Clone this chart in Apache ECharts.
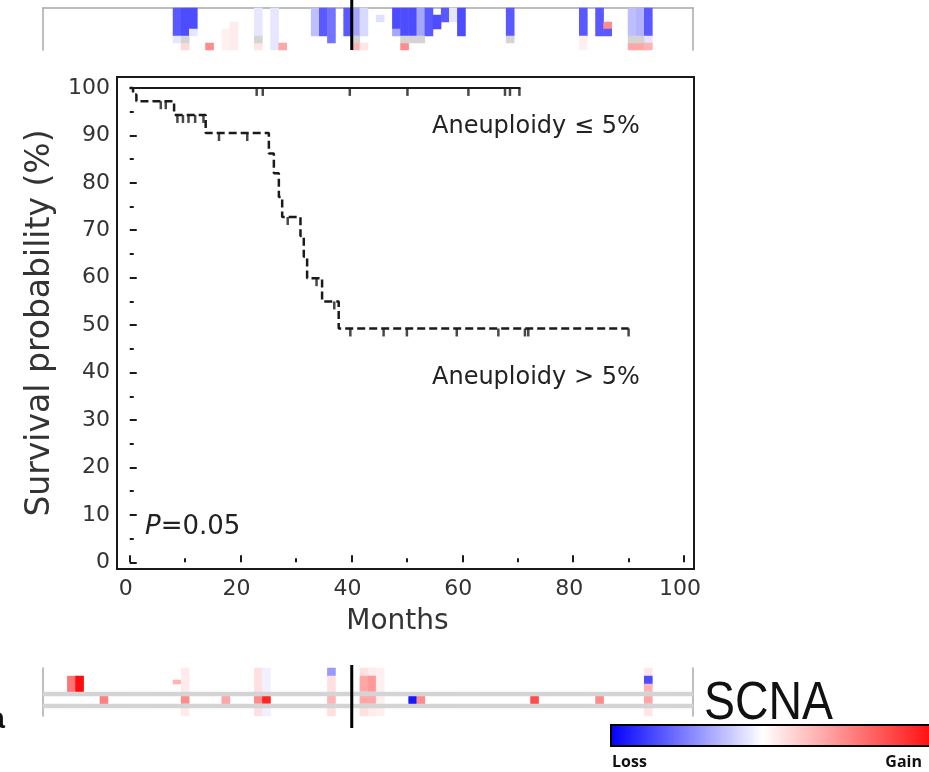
<!DOCTYPE html>
<html>
<head>
<meta charset="utf-8">
<script src="https://cdn.jsdelivr.net/npm/echarts@6/dist/echarts.min.js"></script>
<style>
html, body { margin: 0; padding: 0; background: #fff; }
#main { width: 929px; height: 772px; }
</style>
</head>
<body>
<div id="main"></div>
<script>
// Kaplan-Meier curves: [months, survival %] after each event
var highSteps = [[0, 100], [0.6, 98.6], [1.2, 97.2], [8, 94.3], [13.7, 90.5], [25.1, 86.2], [26, 82], [26.9, 77], [27.5, 72.8],
    [30.8, 68.8], [31.4, 64.4], [32, 59.9], [34.7, 55], [37.7, 49.3], [90, 49.3]];
var highCensor = [[5.6, 97.2], [6.5, 97.2], [8.6, 94.3], [9.6, 94.3], [10.6, 94.3], [11.8, 94.3], [13.3, 94.3], [16.1, 90.5],
    [21.2, 90.5], [28.5, 72.8], [33.7, 59.9], [36.9, 55], [39.8, 49.3], [45.8, 49.3], [50, 49.3], [59, 49.3], [66.5, 49.3],
    [71.3, 49.3], [71.9, 49.3], [90, 49.3]];
var lowSteps = [[0, 100], [70.5, 100]];
var lowCensor = [[22.9, 100], [24, 100], [39.7, 100], [50.1, 100], [61.1, 100], [67.7, 100], [68.6, 100], [70.3, 100]];

var xTicks = [0, 20, 40, 60, 80, 100];
var xMinor = [10, 30, 50, 70, 90];
var yTicks = [0, 10, 20, 30, 40, 50, 60, 70, 80, 90, 100];
var yMinor = [5, 15, 25, 35, 45, 55, 65, 75, 85, 95];

// SCNA strips: [column, firstRow, lastRow, value]  (-1 loss .. 1 gain)
var nCols = 80;
var topRowCount = 6;
var bottomRowCount = 12;
var splitCol = 38;
var topRuns = [
    [16, 0, 3, -0.65], [16, 4, 4, -0.1], [17, 0, 3, -0.7], [17, 5, 5, 0.15], [18, 0, 2, -0.7], [18, 3, 3, -0.1],
    [20, 5, 5, 0.45], [22, 3, 5, 0.06], [23, 2, 5, 0.08], [26, 0, 3, -0.1], [26, 5, 5, 0.1], [28, 0, 5, -0.1],
    [29, 5, 5, 0.35], [33, 0, 3, -0.25], [34, 0, 3, -0.65], [35, 0, 4, -0.55], [37, 0, 3, -0.65],
    [38, 0, 3, -0.35], [38, 5, 5, 0.3], [39, 0, 3, -0.15], [39, 5, 5, 0.1], [41, 1, 1, -0.12],
    [43, 0, 2, -0.7], [43, 3, 3, -0.35], [44, 0, 3, -0.7], [44, 5, 5, 0.45], [45, 0, 3, -0.7], [46, 0, 3, -0.35],
    [47, 0, 3, -0.65], [48, 1, 2, -0.7], [49, 0, 1, -0.65], [50, 0, 1, -0.1], [51, 0, 3, -0.7],
    [57, 0, 3, -0.65], [66, 0, 3, -0.65], [66, 4, 5, 0.06], [68, 0, 3, -0.65], [69, 2, 2, 0.45], [69, 3, 3, -0.65],
    [72, 0, 3, -0.25], [72, 5, 5, 0.35], [73, 0, 3, -0.3], [73, 5, 5, 0.35], [74, 0, 3, -0.65], [74, 4, 4, -0.1], [74, 5, 5, 0.3]
];
var topGrayCells = [[17, 4], [26, 4], [38, 4], [44, 4], [45, 4], [46, 4], [57, 4], [72, 4], [73, 4]];
var bottomRuns = [
    [3, 2, 5, 0.55], [4, 2, 5, 0.95], [7, 7, 8, 0.5], [16, 3, 3, 0.3], [17, 0, 11, 0.08], [17, 7, 8, 0.45],
    [22, 7, 8, 0.35], [26, 0, 11, 0.12], [26, 7, 8, 0.45], [27, 0, 11, -0.06], [27, 7, 8, 0.85],
    [35, 0, 1, -0.4], [35, 2, 11, 0.12], [35, 7, 8, 0.3], [39, 0, 11, 0.12], [39, 2, 5, 0.35], [39, 7, 8, 0.35],
    [40, 0, 11, 0.08], [40, 2, 5, 0.4], [40, 7, 8, 0.35], [41, 0, 11, 0.06], [45, 7, 8, -0.9], [46, 7, 8, 0.45],
    [60, 7, 8, 0.7], [68, 7, 8, 0.45], [74, 0, 11, 0.1], [74, 2, 3, -0.7], [74, 4, 5, 0.3], [74, 7, 8, 0.35]
];
var bottomGrayRows = [6, 9];
var scnaColors = ['#0000ff', '#ffffff', '#ff0000'];

function expand(runs) {
    var map = {};
    runs.forEach(function (r) {
        for (var i = r[1]; i <= r[2]; i++) map[r[0] + ',' + i] = [r[0], i, r[3]];
    });
    return Object.keys(map).map(function (k) { return map[k]; });
}
function range(n) {
    var a = [];
    for (var i = 0; i < n; i++) a.push(String(i));
    return a;
}
var bottomGray = [];
bottomGrayRows.forEach(function (r) {
    for (var c = 0; c < nCols; c++) bottomGray.push([c, r, 1]);
});

var ink = '#1a1a1a';
var frameGray = '#a8a8a8';
var font = 'DejaVu Sans';

var chart = echarts.init(document.getElementById('main'));
var option = {
    animation: false,
    backgroundColor: '#fff',
    grid: [
        {left: 43, top: 8, width: 650, height: 42},
        {left: 43, top: 668, width: 650, height: 48},
        {left: 117, top: 77, width: 577, height: 492, show: true, borderColor: ink, borderWidth: 2}
    ],
    visualMap: [
        {type: 'continuous', min: -1, max: 1, seriesIndex: [0, 2], inRange: {color: scnaColors}, show: false},
        {type: 'continuous', min: 0, max: 1, seriesIndex: [1, 3], inRange: {color: ['#d4d4d4', '#d4d4d4']}, show: false}
    ],
    xAxis: [
        {type: 'category', gridIndex: 0, data: range(nCols), position: 'top',
            axisLine: {onZero: false, lineStyle: {color: frameGray, width: 1.5}}, axisTick: {show: false}, axisLabel: {show: false}},
        {type: 'value', gridIndex: 0, min: 0, max: nCols, show: false},
        {type: 'category', gridIndex: 1, data: range(nCols), show: false},
        {type: 'value', gridIndex: 1, min: 0, max: nCols, show: false},
        {type: 'value', gridIndex: 2, min: -2.3, max: 101.8, position: 'bottom',
            axisLine: {show: false}, splitLine: {show: false},
            axisTick: {inside: true, length: 7, customValues: xTicks, lineStyle: {color: ink, width: 2}},
            axisLabel: {customValues: xTicks, margin: 9, padding: [0, 8, 0, 0], color: '#333', fontSize: 22, fontFamily: font},
            name: 'Months', nameLocation: 'middle', nameGap: 39,
            nameTextStyle: {fontSize: 28, fontFamily: font, color: '#333', padding: [0, 16, 0, 0]}},
        {type: 'value', gridIndex: 2, min: -2.3, max: 101.8, position: 'bottom',
            axisLine: {show: false}, splitLine: {show: false}, axisLabel: {show: false},
            axisTick: {inside: true, length: 4, customValues: xMinor, lineStyle: {color: ink, width: 2}}}
    ],
    yAxis: [
        {type: 'category', gridIndex: 0, data: range(topRowCount), inverse: true,
            axisLine: {onZero: false, lineStyle: {color: frameGray, width: 1.5}}, axisTick: {show: false}, axisLabel: {show: false}},
        {type: 'value', gridIndex: 0, min: 0, max: topRowCount, inverse: true, position: 'right',
            axisLine: {show: true, onZero: false, lineStyle: {color: frameGray, width: 1.5}},
            axisTick: {show: false}, axisLabel: {show: false}, splitLine: {show: false}},
        {type: 'category', gridIndex: 1, data: range(bottomRowCount), inverse: true,
            axisLine: {onZero: false, lineStyle: {color: frameGray, width: 1.5}}, axisTick: {show: false}, axisLabel: {show: false}},
        {type: 'value', gridIndex: 1, min: 0, max: bottomRowCount, inverse: true, position: 'right',
            axisLine: {show: true, onZero: false, lineStyle: {color: frameGray, width: 1.5}},
            axisTick: {show: false}, axisLabel: {show: false}, splitLine: {show: false}},
        {type: 'value', gridIndex: 2, min: -1.4, max: 102.3, position: 'left',
            axisLine: {show: false}, splitLine: {show: false},
            axisTick: {inside: true, length: 7, customValues: yTicks, lineStyle: {color: ink, width: 2}},
            axisLabel: {customValues: yTicks, margin: 7, color: '#333', fontSize: 22, fontFamily: font},
            name: 'Survival probability (%)', nameLocation: 'middle', nameGap: 60,
            nameTextStyle: {fontSize: 33, fontFamily: font, color: '#333'}},
        {type: 'value', gridIndex: 2, min: -1.4, max: 102.3, position: 'left',
            axisLine: {show: false}, splitLine: {show: false}, axisLabel: {show: false},
            axisTick: {inside: true, length: 4, customValues: yMinor, lineStyle: {color: ink, width: 2}}}
    ],
    series: [
        {type: 'heatmap', xAxisIndex: 0, yAxisIndex: 0, data: expand(topRuns), silent: true},
        {type: 'heatmap', xAxisIndex: 0, yAxisIndex: 0, data: topGrayCells.map(function (c) { return [c[0], c[1], 1]; }), silent: true},
        {type: 'heatmap', xAxisIndex: 2, yAxisIndex: 2, data: expand(bottomRuns), silent: true},
        {type: 'heatmap', xAxisIndex: 2, yAxisIndex: 2, data: bottomGray, silent: true},
        {type: 'line', xAxisIndex: 1, yAxisIndex: 1, data: [[splitCol, -1.2], [splitCol, topRowCount]], clip: false,
            symbol: 'none', silent: true, lineStyle: {color: '#000', width: 3}},
        {type: 'line', xAxisIndex: 3, yAxisIndex: 3, data: [[splitCol, -0.75], [splitCol, 15]], clip: false,
            symbol: 'none', silent: true, lineStyle: {color: '#000', width: 3}},
        {type: 'line', xAxisIndex: 4, yAxisIndex: 4, data: lowSteps, symbol: 'none',
            lineStyle: {color: ink, width: 2}},
        {type: 'scatter', xAxisIndex: 4, yAxisIndex: 4, data: lowCensor, symbol: 'rect',
            symbolSize: [2.5, 8], symbolOffset: [0, 4], itemStyle: {color: ink}},
        {type: 'line', xAxisIndex: 4, yAxisIndex: 4, data: highSteps, step: 'end', symbol: 'none',
            lineStyle: {color: ink, width: 2.5, type: [8, 4]}},
        {type: 'scatter', xAxisIndex: 4, yAxisIndex: 4, data: highCensor, symbol: 'rect',
            symbolSize: [2.5, 8], symbolOffset: [0, 4], itemStyle: {color: ink}}
    ],
    graphic: [
        {type: 'text', x: 432, y: 127, style: {text: 'Aneuploidy \u2264 5%', fontSize: 24, fontFamily: font,
            fill: '#222', align: 'left', verticalAlign: 'middle'}},
        {type: 'text', x: 432, y: 378, style: {text: 'Aneuploidy > 5%', fontSize: 24, fontFamily: font,
            fill: '#222', align: 'left', verticalAlign: 'middle'}},
        {type: 'text', x: 145, y: 527, style: {text: '{i|P}=0.05', fontSize: 26, fontFamily: font, fill: '#222',
            align: 'left', verticalAlign: 'middle', rich: {i: {fontStyle: 'italic', fontSize: 26, fontFamily: font, fill: '#222'}}}},
        {type: 'text', x: 704, y: 704, scaleX: 0.86, style: {text: 'SCNA', fontSize: 54, fontFamily: 'Liberation Sans',
            fill: '#111', align: 'left', verticalAlign: 'middle'}},
        {type: 'rect', shape: {x: 611, y: 725, width: 330, height: 21},
            style: {stroke: '#000', lineWidth: 2,
                fill: new echarts.graphic.LinearGradient(0, 0, 1, 0, [
                    {offset: 0, color: scnaColors[0]}, {offset: 0.46, color: scnaColors[1]}, {offset: 1, color: scnaColors[2]}])}},
        {type: 'text', x: 612, y: 762, style: {text: 'Loss', fontSize: 16, fontWeight: 'bold', fontFamily: 'Open Sans',
            fill: '#111', align: 'left', verticalAlign: 'middle'}},
        {type: 'text', x: 922, y: 762, style: {text: 'Gain', fontSize: 16, fontWeight: 'bold', fontFamily: 'Open Sans',
            fill: '#111', align: 'right', verticalAlign: 'middle'}},
        {type: 'text', x: 5, y: 720, style: {text: 'a', fontSize: 30, fontWeight: 'bold', fontFamily: 'Liberation Sans',
            fill: '#111', align: 'right', verticalAlign: 'middle'}}
    ]
};
chart.setOption(option);
</script>
</body>
</html>
